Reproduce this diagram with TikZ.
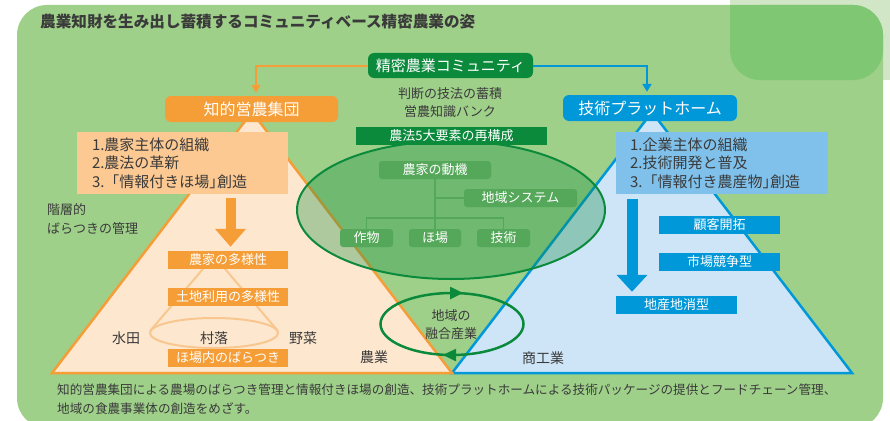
\documentclass[tikz,border=0pt]{standalone}
\usepackage{fontspec}
\setmainfont{Noto Sans CJK JP}
\usetikzlibrary{arrows.meta}
\definecolor{bgG}{HTML}{9FD08A}
\definecolor{paleG}{HTML}{D0E6C6}
\definecolor{cornerG}{HTML}{7FC772}
\definecolor{orng}{HTML}{F59D37}
\definecolor{peach}{HTML}{FDE7CE}
\definecolor{orBox}{HTML}{FCC993}
\definecolor{coneC}{HTML}{F8C790}
\definecolor{blu}{HTML}{0098D8}
\definecolor{lblu}{HTML}{CDE5F7}
\definecolor{bluBox}{HTML}{80C1EB}
\definecolor{dkG}{HTML}{0B8A3C}
\definecolor{midG}{HTML}{55A75A}
\definecolor{txt}{HTML}{3A3A3A}
\newcommand\fsz[2]{\fontsize{#1}{#2}\selectfont}
\newcommand\hclose{{\addfontfeature{RawFeature=+halt}」}}
\begin{document}
\begin{tikzpicture}[x=1pt,y=-1pt,
  head/.style={rectangle, rounded corners=6pt, inner sep=0pt, text=white, font=\fsz{16}{18}},
  tag/.style={rectangle, inner sep=0pt, text=white, font=\fsz{13}{15}, minimum height=18pt},
  ovtag/.style={tag, fill=midG, rounded corners=3pt},
  plain/.style={inner sep=0pt, text=txt, font=\fsz{13}{15}},
  listbox/.style={rectangle, inner ysep=0pt, text=txt, font=\fsz{15}{18.5}, align=left, minimum height=62pt},
  treeline/.style={draw=midG, line width=1.5pt},
  tri/.style={line width=2.5pt, line join=miter},
  conn/.style={line width=2pt, -{Triangle[length=8pt 0 0,width=9pt 0 0]}, shorten >=3pt},
  blockarrow/.style={line width=10pt, shorten <=4pt, shorten >=4pt}
]
\useasboundingbox (0,0) rectangle (890,420);
\fill[white] (0,0) rectangle (890,420);
\fill[paleG] (730,0) rectangle (890,80);
\fill[bgG, rounded corners=30pt] (17,5) rectangle (883,428);
\fill[cornerG, rounded corners=30pt] (730,5) rectangle (883,80);
\fill[cornerG] (730,5) rectangle (770,45);

\node[anchor=west, inner sep=0pt, text=txt, font=\fsz{15.6}{18}\bfseries] (title) at (40,22) {農業知財を生み出し蓄積するコミュニティベース精密農業の姿};

% pyramids
\draw[tri, draw=blu, fill=lblu] (452,373) -- (652,112) -- (852,373) -- cycle;
\draw[tri, draw=orng, fill=peach] (52,373) -- (252,112) -- (452,373) -- cycle;

% cone
\draw[coneC, line width=2pt] (150,331) -- (214,256) -- (278,331);
\draw[coneC, line width=2pt] (214,333) ellipse [x radius=64, y radius=15];

% big ellipse
\draw[dkG, line width=2pt, fill=dkG, fill opacity=0.32] (451,210) ellipse [x radius=154, y radius=69];

% small cycle ellipse
\draw[dkG, line width=2.5pt] (452,324) ellipse [x radius=71.5, y radius=31];
\draw[dkG, line width=2.5pt, -{Triangle[length=13pt 0 0,width=12pt 0 0]}] (440,293) -- (463,293);
\draw[dkG, line width=2.5pt, -{Triangle[length=13pt 0 0,width=12pt 0 0]}] (464,355) -- (443,355);

% head boxes
\node[head, fill=dkG, minimum width=165pt, minimum height=25pt, font=\fsz{15}{17}] (comm) at (450.5,65.5) {精密農業コミュニティ};
\node[head, fill=orng, minimum width=173pt, minimum height=26pt] (farm) at (251.5,109) {知的営農集団};
\node[head, fill=blu, minimum width=174pt, minimum height=26pt] (plat) at (650,108) {技術プラットホーム};
\draw[conn, orng] (comm.west) -| ([xshift=4.5pt]farm.north);
\draw[conn, blu] (comm.east) -| ([xshift=-3pt]plat.north);

% center texts
\node[plain] (judg) at (450,94) {判断の技法の蓄積};
\node[plain] (bank) at (450,112) {営農知識バンク};
\node[tag, fill=dkG, minimum width=191pt] (five) at (451.5,136) {農法5大要素の再構成};

% tree
\node[ovtag, minimum width=112pt] (motive) at (435,170) {農家の動機};
\node[ovtag, minimum width=113pt] (regsys) at (520.5,198) {地域システム};
\node[ovtag, minimum width=53pt] (crop) at (366.5,238) {作物};
\node[ovtag, minimum width=52pt] (field) at (435,238) {ほ場};
\node[ovtag, minimum width=53pt] (tech) at (503.5,238) {技術};
\coordinate (bar) at (0,218);
\draw[treeline] (motive.south) -- (field.north);
\draw[treeline] (motive.south |- regsys.west) -- (regsys.west);
\draw[treeline] (crop.north) -- (crop.north |- bar) -- (tech.north |- bar) -- (tech.north);

% list boxes
\node[listbox, fill=orBox, text width=181pt, inner xsep=15pt] (lbox) at (182.5,163) {1.農家主体の組織\\2.農法の革新\\3.「情報付きほ場\hclose 創造};
\node[listbox, fill=bluBox, text width=184pt, inner xsep=14pt] (rbox) at (722,163) {1.企業主体の組織\\2.技術開発と普及\\3.「情報付き農産物\hclose 創造};

% tags
\node[tag, fill=orng, minimum width=120pt] (div1) at (228,260) {農家の多様性};
\node[tag, fill=orng, minimum width=120pt] (div2) at (228,297) {土地利用の多様性};
\node[tag, fill=orng, minimum width=120pt] (div3) at (228,358) {ほ場内のばらつき};
\node[tag, fill=blu, minimum width=121pt] (cust) at (719.5,225) {顧客開拓};
\node[tag, fill=blu, minimum width=121pt] (mkt) at (719.5,262) {市場競争型};
\node[tag, fill=blu, minimum width=121pt] (local) at (676.5,305) {地産地消型};

% block arrows
\coordinate (ox) at (230.5,0);
\coordinate (bx) at (632,0);
\draw[blockarrow, orng, -{Triangle[length=18pt 0 0,width=30pt 0 0]}] (lbox.south -| ox) -- (div1.north -| ox);
\draw[blockarrow, blu, line width=11pt, shorten <=5pt, -{Triangle[length=17pt 0 0,width=30pt 0 0]}] (rbox.south -| bx) -- (local.north -| bx);

% texts
\node[plain, anchor=west] (hier1) at (47,210) {階層的};
\node[plain, anchor=west] (hier2) at (47,229) {ばらつきの管理};
\node[plain, font=\fsz{14}{16}] (paddy) at (126,338) {水田};
\node[plain, font=\fsz{14}{16}] (village) at (214,338) {村落};
\node[plain, font=\fsz{14}{16}] (veg) at (303,338) {野菜};
\node[plain, font=\fsz{14}{16}] (agri) at (374,357) {農業};
\node[plain, font=\fsz{14}{16}] (comind) at (543,358) {商工業};
\node[plain] (ind1) at (451,316) {地域の};
\node[plain] (ind2) at (451,334) {融合産業};

\node[plain, anchor=west, font=\fsz{12.6}{15}] (foot1) at (57,390) {知的営農集団による農場のばらつき管理と情報付きほ場の創造、技術プラットホームによる技術パッケージの提供とフードチェーン管理、};
\node[plain, anchor=west, font=\fsz{12.6}{15}] (foot2) at (57,409) {地域の食農事業体の創造をめざす。};
\end{tikzpicture}
\end{document}
